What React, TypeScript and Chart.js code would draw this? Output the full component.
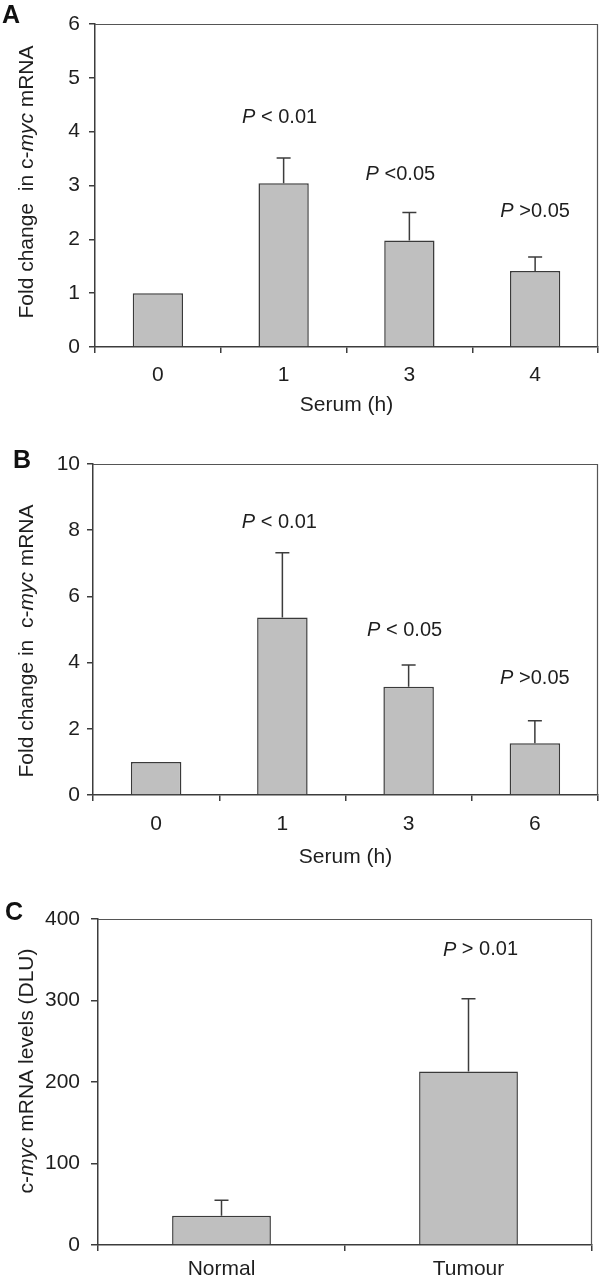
import React, { useEffect, useRef } from "react";
import { Chart, registerables } from "chart.js";

Chart.register(...registerables);

const FONT = '"Liberation Sans", Arial, Helvetica, sans-serif';
const TEXT = "#1e1e1e";
const LINE = "#3c3c3c";
const BAR_FILL = "#bfbfbf";

// ---------- Panel A ----------
const categoriesA = ["0", "1", "3", "4"];
const meansA = [1.0, 3.04, 1.98, 1.41];
const errorsA = [0, 0.47, 0.52, 0.26];
const pLabelsA = ["", "< 0.01", "<0.05", ">0.05"];
const yTicksA = [0, 1, 2, 3, 4, 5, 6];

// ---------- Panel B ----------
const categoriesB = ["0", "1", "3", "6"];
const meansB = [1.0, 5.36, 3.27, 1.56];
const errorsB = [0, 1.96, 0.66, 0.68];
const pLabelsB = ["", "< 0.01", "< 0.05", ">0.05"];
const yTicksB = [0, 2, 4, 6, 8, 10];

// ---------- Panel C ----------
const categoriesC = ["Normal", "Tumour"];
const meansC = [36, 213];
const errorsC = [19, 89];
const pLabelsC = ["", "> 0.01"];
const yTicksC = [0, 100, 200, 300, 400];

type Seg = [string, boolean];

type Panel = {
  letter: string;
  letterPos: [number, number];
  categories: string[];
  means: number[];
  errors: number[];
  pLabels: string[];
  pLabelY: number[];
  pLabelDx: number[];
  yTicks: number[];
  yTitle: Seg[];
  yTitleCenter: [number, number];
  xTitle: string | null;
  xTitlePad: number;
  canvasTop: number;
  canvasH: number;
  area: { l: number; t: number; r: number; b: number };
  yTickPad: number;
  yTickLen: number;
  xTickPad: number;
};

const panels: Panel[] = [
  {
    letter: "A",
    letterPos: [2, 16],
    categories: categoriesA,
    means: meansA,
    errors: errorsA,
    pLabels: pLabelsA,
    pLabelY: [0, 4.26, 3.2, 2.52],
    pLabelDx: [0, -4, -9, 0],
    yTicks: yTicksA,
    yTitle: [["Fold change  in c-", false], ["myc", true], [" mRNA", false]],
    yTitleCenter: [27, 182],
    xTitle: "Serum (h)",
    xTitlePad: 2,
    canvasTop: 0,
    canvasH: 420,
    area: { l: 95, t: 24, r: 598, b: 347 },
    yTickPad: 9,
    yTickLen: 6,
    xTickPad: 10,
  },
  {
    letter: "B",
    letterPos: [13, 41],
    categories: categoriesB,
    means: meansB,
    errors: errorsB,
    pLabels: pLabelsB,
    pLabelY: [0, 8.22, 4.98, 3.53],
    pLabelDx: [0, -3, -4, 0],
    yTicks: yTicksB,
    yTitle: [["Fold change in  c-", false], ["myc", true], [" mRNA", false]],
    yTitleCenter: [27, 221],
    xTitle: "Serum (h)",
    xTitlePad: 8,
    canvasTop: 420,
    canvasH: 458,
    area: { l: 93, t: 44, r: 598, b: 375 },
    yTickPad: 7,
    yTickLen: 6,
    xTickPad: 11,
  },
  {
    letter: "C",
    letterPos: [5, 35],
    categories: categoriesC,
    means: meansC,
    errors: errorsC,
    pLabels: pLabelsC,
    pLabelY: [0, 362],
    pLabelDx: [0, 12],
    yTicks: yTicksC,
    yTitle: [["c-", false], ["myc", true], [" mRNA levels (DLU)", false]],
    yTitleCenter: [27, 193],
    xTitle: null,
    xTitlePad: 0,
    canvasTop: 878,
    canvasH: 405,
    area: { l: 98, t: 41, r: 592, b: 367 },
    yTickPad: 11,
    yTickLen: 7,
    xTickPad: 6,
  },
];

function fontStr(size: number, italic: boolean, bold = false) {
  return `${italic ? "italic " : ""}${bold ? "bold " : ""}${size}px ${FONT}`;
}

function drawSegments(
  ctx: CanvasRenderingContext2D,
  segs: Seg[],
  size: number,
  cx: number,
  cy: number,
  rotate: boolean
) {
  ctx.save();
  ctx.translate(cx, cy);
  if (rotate) ctx.rotate(-Math.PI / 2);
  let total = 0;
  const widths = segs.map(([t, it]) => {
    ctx.font = fontStr(size, it);
    const w = ctx.measureText(t).width;
    total += w;
    return w;
  });
  let x = -total / 2;
  ctx.fillStyle = TEXT;
  ctx.textBaseline = "middle";
  ctx.textAlign = "left";
  segs.forEach(([t, it], i) => {
    ctx.font = fontStr(size, it);
    ctx.fillText(t, x, 0);
    x += widths[i];
  });
  ctx.restore();
}

function PanelChart({ p }: { p: Panel }) {
  const ref = useRef<HTMLCanvasElement>(null);

  useEffect(() => {
    const canvas = ref.current!;
    const overlay = {
      id: "overlay" + p.letter,
      afterDatasetsDraw(chart: any) {
        const { ctx, chartArea: ca, scales } = chart;
        const y = scales.y;
        ctx.save();
        // frame (top and right)
        ctx.strokeStyle = "#555";
        ctx.lineWidth = 1.2;
        ctx.beginPath();
        ctx.moveTo(ca.left, ca.top + 0.5);
        ctx.lineTo(ca.right - 0.5, ca.top + 0.5);
        ctx.lineTo(ca.right - 0.5, ca.bottom);
        ctx.stroke();

        // error bars
        const meta = chart.getDatasetMeta(0);
        ctx.strokeStyle = LINE;
        ctx.lineWidth = 1.5;
        meta.data.forEach((bar: any, i: number) => {
          const e = p.errors[i];
          if (!e) return;
          const yTop = y.getPixelForValue(p.means[i] + e);
          ctx.beginPath();
          ctx.moveTo(bar.x, bar.y);
          ctx.lineTo(bar.x, yTop);
          ctx.moveTo(bar.x - 7, yTop);
          ctx.lineTo(bar.x + 7, yTop);
          ctx.stroke();
        });

        // P labels
        meta.data.forEach((bar: any, i: number) => {
          const t = p.pLabels[i];
          if (!t) return;
          drawSegments(
            ctx,
            [["P", true], [" " + t, false]],
            20,
            bar.x + p.pLabelDx[i],
            y.getPixelForValue(p.pLabelY[i]),
            false
          );
        });

        // y title
        drawSegments(ctx, p.yTitle, 21, p.yTitleCenter[0], p.yTitleCenter[1], true);

        // panel letter
        ctx.font = fontStr(25, false, true);
        ctx.fillStyle = "#111";
        ctx.textAlign = "left";
        ctx.textBaseline = "middle";
        ctx.fillText(p.letter, p.letterPos[0], p.letterPos[1]);
        ctx.restore();
      },
    };

    const chart = new Chart(canvas, {
      type: "bar",
      data: {
        labels: p.categories,
        datasets: [
          {
            data: p.means,
            backgroundColor: BAR_FILL,
            borderColor: "#3a3a3a",
            borderWidth: 1.5,
            barPercentage: 0.4,
            categoryPercentage: 1,
          },
        ],
      },
      options: {
        animation: false,
        responsive: false,
        devicePixelRatio: 1,
        layout: {
          padding: { top: p.area.t, left: 0, right: 600 - p.area.r, bottom: 0 },
        },
        plugins: {
          legend: { display: false },
          tooltip: { enabled: false },
        },
        scales: {
          x: {
            offset: true,
            grid: {
              display: true,
              drawOnChartArea: false,
              drawTicks: true,
              tickLength: 6,
              color: LINE,
              lineWidth: 1.5,
              offset: true,
            },
            border: { display: true, color: LINE, width: 1.5 },
            ticks: {
              font: { family: FONT, size: 21 },
              color: TEXT,
              padding: p.xTickPad,
              maxRotation: 0,
            },
            title: p.xTitle
              ? {
                  display: true,
                  text: p.xTitle,
                  font: { family: FONT, size: 21 },
                  color: TEXT,
                  padding: { top: 0, bottom: p.xTitlePad },
                }
              : { display: false },
            afterFit: (s: any) => {
              s.height = p.canvasH - p.area.b;
            },
          },
          y: {
            min: p.yTicks[0],
            max: p.yTicks[p.yTicks.length - 1],
            grid: {
              display: true,
              drawOnChartArea: false,
              drawTicks: true,
              tickLength: p.yTickLen,
              color: LINE,
              lineWidth: 1.5,
            },
            border: { display: true, color: LINE, width: 1.5 },
            ticks: {
              font: { family: FONT, size: 21 },
              color: TEXT,
              padding: p.yTickPad,
            },
            afterBuildTicks: (s: any) => {
              s.ticks = p.yTicks.map((v) => ({ value: v }));
            },
            afterFit: (s: any) => {
              s.width = p.area.l;
            },
          },
        },
      } as any,
      plugins: [overlay],
    });
    return () => chart.destroy();
  }, [p]);

  return (
    <canvas
      ref={ref}
      width={600}
      height={p.canvasH}
      style={{
        position: "absolute",
        left: 0,
        top: p.canvasTop,
        width: 600,
        height: p.canvasH,
      }}
    />
  );
}

export default function App() {
  return (
    <div
      style={{
        position: "absolute",
        left: 0,
        top: 0,
        width: 600,
        height: 1283,
        background: "#fff",
        overflow: "hidden",
      }}
    >
      {panels.map((p) => (
        <PanelChart key={p.letter} p={p} />
      ))}
    </div>
  );
}
